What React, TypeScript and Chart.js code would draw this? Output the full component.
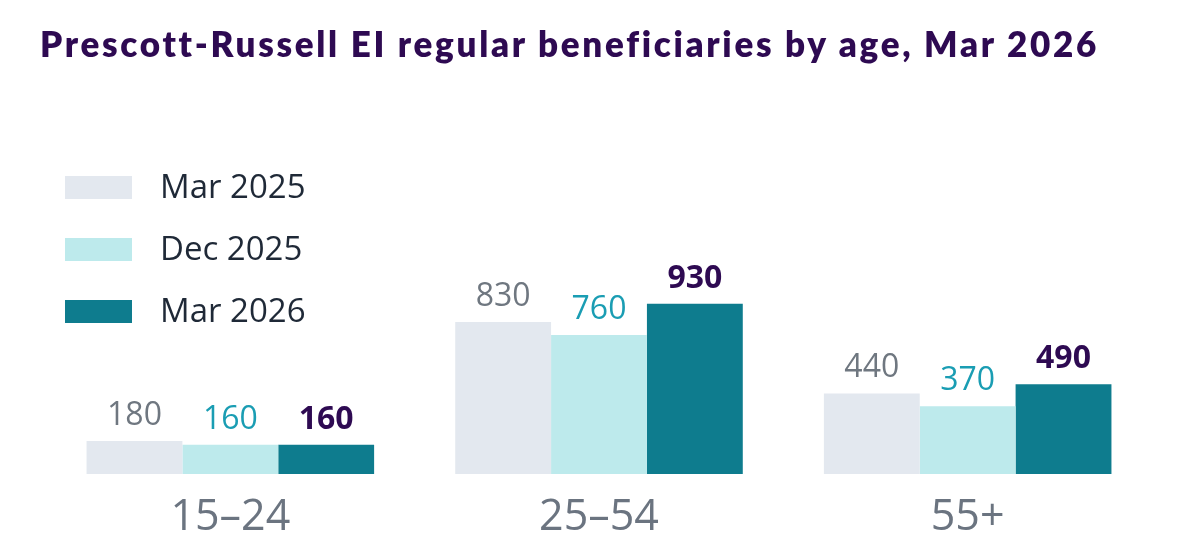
import React, { useEffect, useRef } from "react";
import { Chart, registerables } from "chart.js";

Chart.register(...registerables);

const categories = ["15–24", "25–54", "55+"];
const seriesNames = ["Mar 2025", "Dec 2025", "Mar 2026"];
const mar2025 = [180, 830, 440];
const dec2025 = [160, 760, 370];
const mar2026 = [160, 930, 490];

const barColors = ["#e3e8ef", "#bdeaec", "#0e7c8e"];
const labelColors = ["#6f7780", "#1a9db3", "#2e0a52"];
const labelWeights = ["400", "400", "700"];

const FONT = "'Open Sans', 'Noto Sans', sans-serif";

const valueLabels = {
  id: "valueLabels",
  afterDatasetsDraw(chart: any) {
    const ctx = chart.ctx;
    ctx.save();
    ctx.textAlign = "center";
    ctx.textBaseline = "alphabetic";
    chart.data.datasets.forEach((ds: any, i: number) => {
      const meta = chart.getDatasetMeta(i);
      meta.data.forEach((bar: any, j: number) => {
        ctx.font = `${labelWeights[i]} 32px ${FONT}`;
        ctx.fillStyle = labelColors[i];
        ctx.fillText(String(ds.data[j]), bar.x, bar.y - 16);
      });
    });
    ctx.restore();
  },
};

const sideLegend = {
  id: "sideLegend",
  afterDraw(chart: any) {
    const ctx = chart.ctx;
    ctx.save();
    ctx.textBaseline = "middle";
    ctx.textAlign = "left";
    ctx.font = `400 33px ${FONT}`;
    chart.data.datasets.forEach((ds: any, i: number) => {
      const cy = 187.5 + i * 62;
      ctx.fillStyle = ds.backgroundColor;
      ctx.fillRect(65, cy - 11.5, 67, 23);
      ctx.fillStyle = "#1f2937";
      ctx.fillText(ds.label, 160, cy + 1);
    });
    ctx.restore();
  },
};

export default function App() {
  const ref = useRef<HTMLCanvasElement>(null);
  useEffect(() => {
    document.body.style.margin = "0";
    const chart = new Chart(ref.current!, {
      type: "bar",
      data: {
        labels: categories,
        datasets: [mar2025, dec2025, mar2026].map((d, i) => ({
          label: seriesNames[i],
          data: d,
          backgroundColor: barColors[i],
          categoryPercentage: 0.78,
          barPercentage: 1,
        })),
      },
      options: {
        animation: false,
        responsive: false,
        layout: { padding: { top: 291, left: 46, right: 28, bottom: 0 } },
        plugins: {
          legend: { display: false },
          tooltip: { enabled: false },
          title: { display: false },
        },
        scales: {
          x: {
            grid: { display: false },
            border: { display: false },
            ticks: {
              color: "#6b7480",
              font: { family: FONT, size: 43 },
              padding: 10,
            },
            afterFit: (s: any) => {
              s.height = 66;
            },
          },
          y: {
            display: false,
            min: 0,
            max: 1000,
          },
        },
      },
      plugins: [valueLabels, sideLegend],
    });
    return () => chart.destroy();
  }, []);
  return (
    <div style={{ position: "relative", width: 1180, height: 540, background: "#fff" }}>
      <div
        style={{
          position: "absolute",
          left: 40,
          top: 22,
          fontFamily: "Lato, 'Noto Sans', sans-serif",
          fontWeight: 800,
          fontSize: 35,
          letterSpacing: "2.7px",
          color: "#2e0a52",
          whiteSpace: "nowrap",
          lineHeight: "42px",
        }}
      >
        Prescott-Russell EI regular beneficiaries by age, Mar 2026
      </div>
      <canvas ref={ref} width={1180} height={540} />
    </div>
  );
}
